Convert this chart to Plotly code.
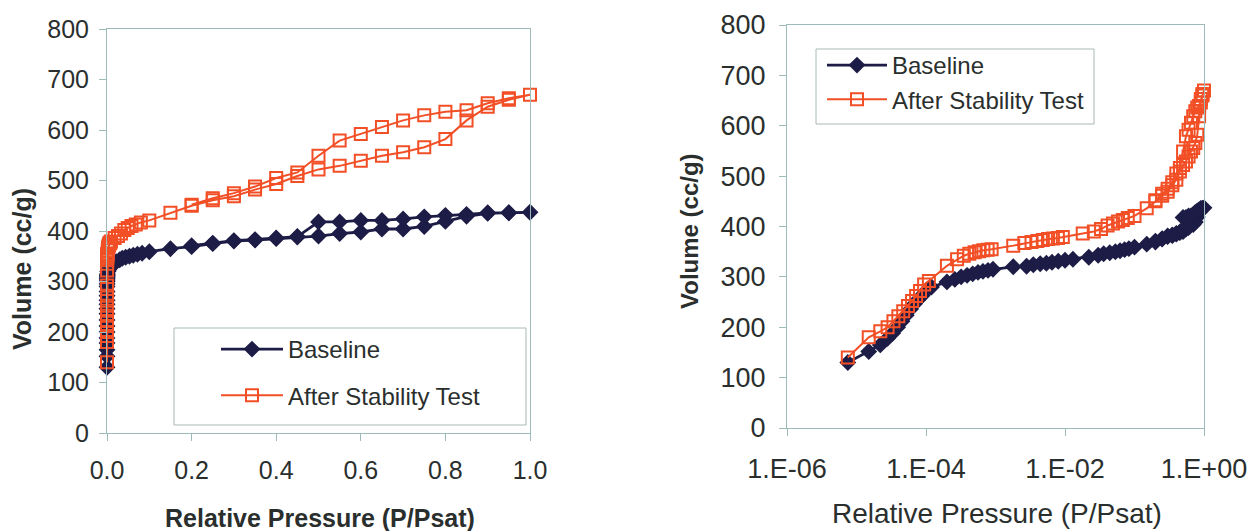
import plotly.graph_objects as go

# Nitrogen isotherm, baseline sample: adsorption branch followed by desorption branch
base_p = [7.5e-6, 1.5e-5, 2.2e-5, 2.8e-5, 3.3e-5, 3.9e-5, 4.5e-5, 5.2e-5, 6.0e-5, 6.8e-5,
          7.7e-5, 8.8e-5, 1.0e-4, 1.2e-4, 2.0e-4, 2.6e-4, 3.2e-4, 3.9e-4, 4.7e-4, 5.6e-4,
          6.6e-4, 7.8e-4, 9.2e-4, 1.8e-3, 2.8e-3, 3.5e-3, 4.4e-3, 5.4e-3, 6.5e-3, 8.0e-3,
          1.0e-2, 1.3e-2, 2.2e-2, 3.0e-2, 3.6e-2, 4.4e-2, 5.3e-2, 6.2e-2, 7.2e-2, 8.3e-2,
          0.10, 0.15, 0.20, 0.25, 0.30, 0.35, 0.40, 0.45, 0.50, 0.55,
          0.60, 0.65, 0.70, 0.75, 0.80, 0.85, 0.90, 0.95, 1.00,
          0.95, 0.90, 0.85, 0.80, 0.75, 0.70, 0.65, 0.60, 0.55, 0.50,
          0.45, 0.40, 0.35, 0.30, 0.25, 0.20]
base_v = [130, 152, 165, 178, 188, 200, 212, 224, 236, 246,
          255, 263, 272, 280, 290, 295, 300, 303, 306, 309,
          311, 313, 315, 320, 321, 324, 326, 327, 329, 331,
          333, 335, 339, 343, 346, 348, 350, 352, 354, 356,
          359, 365, 369, 375, 380, 382, 385, 388, 390, 395,
          398, 404, 404, 409, 419, 429, 435, 436, 437,
          436, 436, 433, 431, 428, 424, 421, 421, 418, 418,
          389, 386, 383, 381, 376, 371]

# Isotherm after the stability test: adsorption branch followed by desorption branch
after_p = [7.5e-6, 1.5e-5, 2.2e-5, 2.8e-5, 3.4e-5, 4.0e-5, 4.7e-5, 5.5e-5, 6.3e-5, 7.2e-5,
           8.2e-5, 9.4e-5, 1.1e-4, 2.0e-4, 2.8e-4, 3.5e-4, 4.2e-4, 5.0e-4, 5.8e-4, 6.7e-4,
           7.7e-4, 8.8e-4, 1.8e-3, 2.6e-3, 3.3e-3, 4.0e-3, 4.8e-3, 5.7e-3, 6.7e-3, 7.9e-3,
           9.3e-3, 1.8e-2, 2.6e-2, 3.3e-2, 4.1e-2, 4.9e-2, 5.8e-2, 6.8e-2, 8.0e-2,
           0.10, 0.15, 0.20, 0.25, 0.30, 0.35, 0.40, 0.45, 0.50, 0.55,
           0.60, 0.65, 0.70, 0.75, 0.80, 0.85, 0.90, 0.95, 1.00,
           0.95, 0.90, 0.85, 0.80, 0.75, 0.70, 0.65, 0.60, 0.55, 0.50,
           0.45, 0.40, 0.35, 0.30, 0.25, 0.20]
after_v = [140, 180, 192, 200, 212, 222, 232, 242, 252, 262,
           272, 285, 292, 322, 335, 342, 346, 349, 351, 353,
           354, 355, 362, 367, 369, 371, 373, 375, 376, 377,
           379, 386, 390, 395, 402, 406, 410, 413, 417,
           421, 436, 450, 461, 469, 482, 493, 509, 522, 529,
           539, 549, 556, 566, 582, 619, 646, 660, 670,
           663, 653, 639, 636, 629, 619, 606, 592, 579, 549,
           516, 505, 488, 475, 465, 452]

series_names = ["Baseline", "After Stability Test"]
y_ticks = [0, 100, 200, 300, 400, 500, 600, 700, 800]
log_tick_vals = [1e-6, 1e-4, 1e-2, 1.0]
log_tick_text = ["1.E-06", "1.E-04", "1.E-02", "1.E+00"]

NAVY = "#1c1c46"
ORANGE = "#f24f26"
FRAME = "#9dbcb9"
TEXT = "#2a2f2e"
FONT = "Liberation Sans, Arial, sans-serif"
W, H = 1256, 531


def px_x(v):
    return v / W


def px_y(v):
    return 1 - v / H


fig = go.Figure()
for xa, ya, leg in [("x", "y", "legend"), ("x2", "y2", "legend2")]:
    fig.add_trace(go.Scatter(
        x=base_p, y=base_v, name=series_names[0], mode="lines+markers",
        xaxis=xa, yaxis=ya, legend=leg, legendgroup=leg + "a",
        marker=dict(symbol="diamond", size=13, color=NAVY),
        line=dict(color=NAVY, width=2.8), cliponaxis=False))
    fig.add_trace(go.Scatter(
        x=after_p, y=after_v, name=series_names[1], mode="lines+markers",
        xaxis=xa, yaxis=ya, legend=leg, legendgroup=leg + "b",
        marker=dict(symbol="square-open", size=12, color=ORANGE, line=dict(width=2, color=ORANGE)),
        line=dict(color=ORANGE, width=2), cliponaxis=False))

axis_common = dict(showline=True, linecolor=FRAME, linewidth=1, mirror=True,
                   ticks="outside", ticklen=7, tickcolor=FRAME, showgrid=False,
                   zeroline=False, automargin=False)

fig.update_layout(
    width=W, height=H,
    margin=dict(l=0, r=0, t=0, b=0, autoexpand=False),
    paper_bgcolor="white", plot_bgcolor="white",
    font=dict(family=FONT, color=TEXT),
    xaxis=dict(domain=[px_x(107), px_x(530)], range=[0, 1], dtick=0.2, tickformat=".1f",
               anchor="y", tickfont=dict(size=25), ticklabelstandoff=8, **axis_common),
    yaxis=dict(domain=[px_y(433), px_y(29)], range=[0, 800], tickvals=y_ticks,
               anchor="x", tickfont=dict(size=25), ticklabelstandoff=5, **axis_common),
    xaxis2=dict(domain=[px_x(787), px_x(1204)], type="log", range=[-6, 0],
                tickvals=log_tick_vals, ticktext=log_tick_text,
                anchor="y2", tickfont=dict(size=27), ticklabelstandoff=10, **axis_common),
    yaxis2=dict(domain=[px_y(428), px_y(25)], range=[0, 800], tickvals=y_ticks,
                anchor="x2", tickfont=dict(size=27), ticklabelstandoff=8, **axis_common),
    legend=dict(x=px_x(216), y=px_y(327), xanchor="left", yanchor="top",
                bgcolor="rgba(0,0,0,0)", borderwidth=0, itemwidth=62,
                tracegroupgap=12, font=dict(size=24, family=FONT, color=TEXT)),
    legend2=dict(x=px_x(822), y=px_y(43), xanchor="left", yanchor="top",
                 bgcolor="rgba(0,0,0,0)", borderwidth=0, itemwidth=60,
                 tracegroupgap=0, font=dict(size=24, family=FONT, color=TEXT)),
    shapes=[
        dict(type="rect", xref="paper", yref="paper", layer="below",
             x0=px_x(174), x1=px_x(526), y0=px_y(425), y1=px_y(328),
             line=dict(color="#a9b8b8", width=1), fillcolor="white"),
        dict(type="rect", xref="paper", yref="paper", layer="below",
             x0=px_x(816), x1=px_x(1094), y0=px_y(124), y1=px_y(49),
             line=dict(color="#a9b8b8", width=1), fillcolor="white"),
    ],
    annotations=[
        dict(text="<b>Volume (cc/g)</b>", textangle=-90, xref="paper", yref="paper",
             x=px_x(22), y=px_y(269), xanchor="center", yanchor="middle",
             showarrow=False, font=dict(size=25)),
        dict(text="<b>Relative Pressure (P/Psat)</b>", xref="paper", yref="paper",
             x=px_x(320), y=px_y(518), xanchor="center", yanchor="middle",
             showarrow=False, font=dict(size=25)),
        dict(text="<b>Volume (cc/g)</b>", textangle=-90, xref="paper", yref="paper",
             x=px_x(689), y=px_y(231), xanchor="center", yanchor="middle",
             showarrow=False, font=dict(size=24)),
        dict(text="Relative Pressure (P/Psat)", xref="paper", yref="paper",
             x=px_x(997), y=px_y(513), xanchor="center", yanchor="middle",
             showarrow=False, font=dict(size=28)),
    ],
)

fig.write_html("out.html")
